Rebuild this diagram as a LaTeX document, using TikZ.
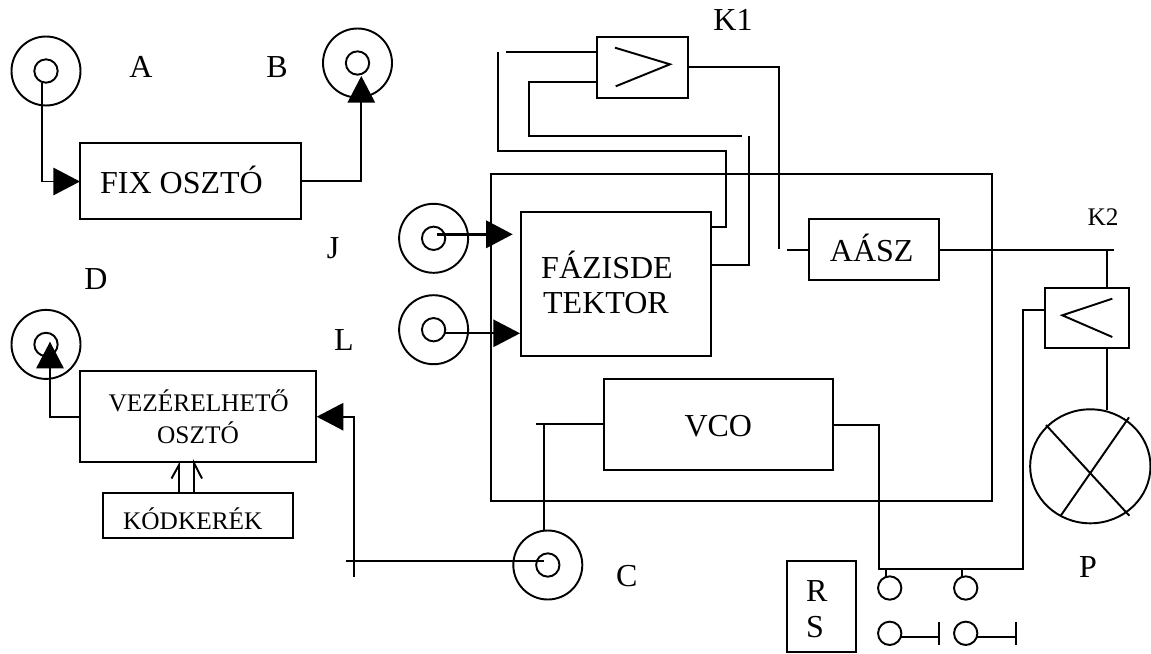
\documentclass[tikz,border=0pt]{standalone}
\usepackage{fontspec}
\setmainfont{Liberation Serif}
\usetikzlibrary{arrows.meta,shapes.geometric}
\tikzset{
  wire/.style={line width=1.45pt,line join=miter},
  box/.style={draw,line width=1.5pt,rectangle,inner sep=0pt,outer sep=0pt},
  ring/.style={draw,line width=1.45pt,circle,inner sep=0pt,outer sep=0pt,minimum size=51.75pt},
  hub/.style={draw,line width=1.45pt,circle,inner sep=0pt,outer sep=0pt,minimum size=17.5pt},
  big/.style={inner sep=0pt,anchor=base,font=\fontsize{24}{24}\selectfont},
  mid/.style={inner sep=0pt,anchor=base,font=\fontsize{19}{19}\selectfont},
  tip/.style={-{Triangle[length=20pt,width=20.5pt]}},
}
\begin{document}
\begin{tikzpicture}[x=0.75pt,y=-0.75pt]
\useasboundingbox (0,0) rectangle (1151,653);
% connectors' free ends
\coordinate (c1in) at (505.7,52);
\coordinate (c1stub) at (498.3,52);
\coordinate (c2end) at (741.7,135.7);
\coordinate (c3top) at (749,135.7);
\coordinate (k1end) at (779.3,249.3);
\coordinate (aasin) at (787.3,250);
\coordinate (k2end) at (1114,250);
\coordinate (k2tap) at (1106.7,250);
\coordinate (vcostub) at (536,424.3);
\coordinate (vcotap) at (544,424.3);
\coordinate (cstub) at (346,561.3);
\coordinate (cin) at (544,561.3);
\coordinate (vezv) at (354,576.7);
% blocks
\node[box,minimum width=165.75pt,minimum height=57pt] (fix) at (190.5,181) {};
\node[box,minimum width=176.75pt,minimum height=68.25pt] (vez) at (197.85,416.8) {};
\node[box,minimum width=143pt,minimum height=34.25pt] (kod) at (198,515.5) {};
\node[box,minimum width=376.25pt,minimum height=245.25pt] (main) at (741.5,337.5) {};
\node[box,minimum width=142.5pt,minimum height=108.25pt] (fazis) at (616,283.85) {};
\node[box,minimum width=68pt,minimum height=45.75pt] (amp1) at (642.35,67.2) {};
\node[box,minimum width=97.5pt,minimum height=45.75pt] (aasz) at (874.3,249.8) {};
\node[box,minimum width=63pt,minimum height=45.5pt] (amp2) at (1087.3,318) {};
\node[box,minimum width=171.75pt,minimum height=68.25pt] (vco) at (718.8,424.5) {};
\node[box,minimum width=52pt,minimum height=68.5pt] (rs) at (821.35,606.65) {};
% sockets
\node[ring] (A) at (46,71) {}; \node[hub] (Ai) at (46,71) {};
\node[ring] (B) at (357.5,63) {}; \node[hub] (Bi) at (357.5,63) {};
\node[ring] (D) at (46,344.4) {}; \node[hub] (Di) at (46,344.4) {};
\node[ring] (J) at (433.6,238.3) {}; \node[hub] (Ji) at (433.6,238.3) {};
\node[ring] (L) at (433.6,329.7) {}; \node[hub] (Li) at (433.6,329.7) {};
\node[ring] (C) at (547.8,565) {}; \node[hub] (Ci) at (547.8,565) {};
% lamp
\node[draw,line width=1.45pt,ellipse,inner sep=0pt,outer sep=0pt,minimum width=90.25pt,minimum height=85.5pt] (lamp) at (1090.3,466.3) {};
\coordinate (x1a) at (1046,425); \coordinate (x1b) at (1129.3,515.7);
\coordinate (x2a) at (1129,417.3); \coordinate (x2b) at (1060.7,515.7);
\draw[wire] (x1a) -- (x1b);
\draw[wire] (x2a) -- (x2b);
% amplifier symbols
\coordinate (g1a) at (615,47.7); \coordinate (g1b) at (670,64.3); \coordinate (g1c) at (615.7,86.3);
\draw[wire] (g1a) -- (g1b) -- (g1c);
\coordinate (g2a) at (1112.3,298.7); \coordinate (g2b) at (1062.3,315.3); \coordinate (g2c) at (1112.3,337);
\draw[wire] (g2a) -- (g2b) -- (g2c);
% switches
\node[hub] (s1) at (889.7,588) {};
\node[hub] (s2) at (965.7,588) {};
\node[hub] (s3) at (889.7,633.3) {};
\node[hub] (s4) at (965.7,633.3) {};
\coordinate (b3a) at (939.3,622.3); \coordinate (b3b) at (939.3,645);
\coordinate (b4a) at (1015.7,622.3); \coordinate (b4b) at (1015.7,645);
\draw[wire] (b3a) -- (b3b);
\draw[wire] (b4a) -- (b4b);
\coordinate (s3r) at (901,636.7); \coordinate (b3m) at (939.3,636.7);
\coordinate (s4r) at (977,636.7); \coordinate (b4m) at (1015.7,636.7);
\draw[wire] (s3r) -- (b3m);
\draw[wire] (s4r) -- (b4m);
% connectors with filled arrows
\coordinate (Aout) at (42,82.7); \coordinate (fixin) at (80,181.5);
\draw[wire,tip] (Aout) |- (fixin);
\coordinate (fixout) at (301,181.3); \coordinate (Bin) at (361.3,76);
\draw[wire,tip] (fixout) -| (Bin);
\coordinate (vezout) at (80,416.7); \coordinate (Din) at (50,341.7);
\draw[wire,tip] (vezout) -| (Din);
\coordinate (vezin) at (316.7,416.7);
\draw[wire,tip] (vezv) |- (vezin);
\coordinate (Jout) at (436.7,234.3); \coordinate (fazJ) at (512.7,234.3);
\draw[line width=2.2pt,tip] (Jout) -- (fazJ);
\coordinate (Lout) at (445,333.3); \coordinate (fazL) at (520,333.3);
\draw[wire,tip] (Lout) -- (fazL);
% code wheel
\coordinate (kod1) at (179,492.7); \coordinate (vez1) at (179,465);
\coordinate (kod2) at (194,492.7); \coordinate (vez2) at (194,463);
\coordinate (bar1) at (171.5,478.5); \coordinate (bar2) at (202,478.5);
\draw[wire] (kod1) -- (vez1) -- (bar1);
\draw[wire] (kod2) -- (vez2) -- (bar2);
% phase detector to amplifier K1
\coordinate (f1) at (711,226.7); \coordinate (f1u) at (726,151);
\coordinate (f2) at (711,265);
\coordinate (a1i) at (597,52); \coordinate (a2i) at (597,82.3);
\coordinate (a2v) at (528.7,135.7);
\draw[wire] (a1i) -- (c1in);
\draw[wire] (c1stub) |- (f1u) |- (f1);
\draw[wire] (a2i) -| (a2v) -- (c2end);
\draw[wire] (c3top) |- (f2);
\coordinate (a1o) at (687.7,67.3);
\draw[wire] (a1o) -| (k1end);
\coordinate (aasl) at (809.3,250); \coordinate (aasr) at (939.3,250);
\draw[wire] (aasin) -- (aasl);
\draw[line width=1.8pt] (aasr) -- (k2end);
\coordinate (a2top) at (1106.7,287.7); \coordinate (a2bot) at (1106.7,348.3);
\coordinate (lamptop) at (1106.7,410);
\draw[wire] (k2tap) -- (a2top);
\draw[wire] (a2bot) -- (lamptop);
% VCO wiring
\coordinate (vcol) at (604.3,424.3); \coordinate (Ctop) at (544,531);
\draw[wire] (vcol) -- (vcostub);
\draw[wire] (vcotap) -- (Ctop);
\draw[wire] (cstub) -- (cin);
\coordinate (vcor) at (833.3,425); \coordinate (busl) at (878.7,569); \coordinate (busr) at (1023,569);
\coordinate (a2l) at (1045.3,310.3);
\draw[wire] (vcor) -| (busl) -- (busr) |- (a2l);
\coordinate (s1t) at (886,569); \coordinate (s1s) at (886,576.7);
\coordinate (s2t) at (962,569); \coordinate (s2s) at (962,576.7);
\draw[wire] (s1t) -- (s1s);
\draw[wire] (s2t) -- (s2s);
% labels
\node[big] (tA) at (141,77) {A};
\node[big] (tB) at (277,77) {B};
\node[big] (tJ) at (333,258) {J};
\node[big] (tD) at (96,289) {D};
\node[big] (tL) at (344,350) {L};
\node[big] (tC) at (626.7,586) {C};
\node[big] (tP) at (1088,577.3) {P};
\node[big] (tK1) at (733,31) {K1};
\node[mid] (tK2) at (1103,225) {K2};
\node[big] (tfix) at (181.5,193.3) {FIX OSZTÓ};
\node[mid] (tvez1) at (198.7,411.7) {VEZÉRELHETŐ};
\node[mid] (tvez2) at (198,443) {OSZTÓ};
\node[mid] (tkod) at (192.8,529.3) {KÓDKERÉK};
\node[big] (tfaz1) at (607,278.3) {FÁZISDE};
\node[big] (tfaz2) at (606,313.3) {TEKTOR};
\node[big] (taas) at (871.7,261.7) {AÁSZ};
\node[big] (tvco) at (718.3,436.7) {VCO};
\node[big] (tR) at (816.7,601) {R};
\node[big] (tS) at (815,637.3) {S};
\end{tikzpicture}
\end{document}
